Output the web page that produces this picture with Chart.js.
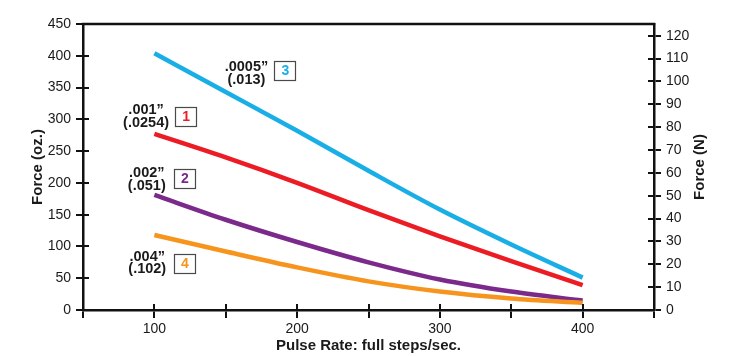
<!DOCTYPE html>
<html>
<head>
<meta charset="utf-8">
<script src="https://cdn.jsdelivr.net/npm/chart.js@4/dist/chart.umd.min.js"></script>
<style>
  html, body { margin: 0; padding: 0; background: #ffffff; }
  #wrap { width: 729px; height: 356px; position: relative; }
</style>
</head>
<body>
<div id="wrap"><canvas id="c" width="729" height="356"></canvas></div>
<script>
// ---- data ----
const pulseRates = [100, 150, 200, 250, 300, 350, 400];          // full steps/sec
const force1 = [277, 240, 200, 157, 116, 77, 39];                  // .001" (.0254)  oz
const force2 = [181, 142, 107, 75, 48, 29, 15];                    // .002" (.051)   oz
const force3 = [404, 343, 282, 219, 158, 103, 51];                 // .0005" (.013)  oz
const force4 = [118, 92, 67, 45, 29, 18, 11];                      // .004" (.102)   oz
const xTickLabels = [100, 200, 300, 400];
const OZ_TO_N = 0.278014;

const COLORS = { c1: '#ec1c24', c2: '#7b2a8c', c3: '#1aaee6', c4: '#f7941d' };
const FONT = "'Liberation Sans', Arial, Helvetica, sans-serif";

// curve labels, anchored in data coordinates
const curveLabels = [
  { l1: '.0005\u201D', l2: '(.013)', num: '3', color: COLORS.c3, tx: 164.5, ty: 382, bx: 191.5, by: 377.5 },
  { l1: '.001\u201D',  l2: '(.0254)', num: '1', color: COLORS.c1, tx: 94.2, ty: 314.5, bx: 121.9, by: 305 },
  { l1: '.002\u201D',  l2: '(.051)', num: '2', color: COLORS.c2, tx: 94.7, ty: 216, bx: 121, by: 207.5 },
  { l1: '.004\u201D',  l2: '(.102)', num: '4', color: COLORS.c4, tx: 95, ty: 84, bx: 121, by: 73.5 }
];

const pts = arr => pulseRates.map((x, i) => ({ x: x, y: arr[i] }));

const ds = (data, color) => ({
  data: pts(data), borderColor: color, backgroundColor: color,
  borderWidth: 4.5, pointRadius: 0, fill: false,
  cubicInterpolationMode: 'monotone', borderCapStyle: 'butt'
});

const framePlugin = {
  id: 'frame',
  afterDraw(chart) {
    const ctx = chart.ctx;
    const a = chart.chartArea;
    const xs = chart.scales.x, ys = chart.scales.y, y2 = chart.scales.y2;
    ctx.save();
    // top border
    ctx.strokeStyle = '#111';
    ctx.lineWidth = 2.5;
    ctx.beginPath();
    ctx.moveTo(a.left - 1.2, a.top);
    ctx.lineTo(a.right + 1.2, a.top);
    ctx.stroke();
    // inner tick parts
    ctx.lineWidth = 2;
    ctx.beginPath();
    ys.ticks.forEach(t => {
      const py = Math.round(ys.getPixelForValue(t.value));
      ctx.moveTo(a.left, py); ctx.lineTo(a.left + 6, py);
    });
    y2.ticks.forEach(t => {
      const py = Math.round(y2.getPixelForValue(t.value));
      ctx.moveTo(a.right, py); ctx.lineTo(a.right - 6, py);
    });
    xs.ticks.forEach(t => {
      const px = Math.round(xs.getPixelForValue(t.value));
      ctx.moveTo(px, a.bottom); ctx.lineTo(px, a.bottom - 6);
    });
    ctx.stroke();
    // right axis title
    ctx.fillStyle = '#1a1a1a';
    ctx.font = 'bold 15px ' + FONT;
    ctx.textAlign = 'center';
    ctx.textBaseline = 'middle';
    ctx.translate(700, (a.top + a.bottom) / 2);
    ctx.rotate(-Math.PI / 2);
    ctx.fillText('Force (N)', 0, 0);
    ctx.restore();

    // curve labels
    ctx.save();
    curveLabels.forEach(l => {
      const px = xs.getPixelForValue(l.tx), py = ys.getPixelForValue(l.ty);
      ctx.fillStyle = '#1a1a1a';
      ctx.font = 'bold 14.5px ' + FONT;
      ctx.textAlign = 'center';
      ctx.textBaseline = 'middle';
      ctx.fillText(l.l1, px, py);
      ctx.fillText(l.l2, px, py + 12.8);
      const bx = xs.getPixelForValue(l.bx), by = ys.getPixelForValue(l.by);
      ctx.fillStyle = '#ffffff';
      ctx.fillRect(bx - 10.5, by - 9.5, 21, 19);
      ctx.strokeStyle = '#4a4a4a';
      ctx.lineWidth = 1.2;
      ctx.strokeRect(Math.round(bx - 10.5) + 0.5, Math.round(by - 9.5) + 0.5, 21, 19);
      ctx.fillStyle = l.color;
      ctx.font = 'bold 14px ' + FONT;
      ctx.fillText(l.num, bx + 0.5, by + 1);
    });
    ctx.restore();
  }
};

const tickFont = { family: FONT, size: 14 };
const titleFont = { family: FONT, size: 15, weight: 'bold' };

new Chart(document.getElementById('c'), {
  type: 'line',
  data: {
    datasets: [
      ds(force4, COLORS.c4),
      ds(force2, COLORS.c2),
      ds(force1, COLORS.c1),
      ds(force3, COLORS.c3)
    ]
  },
  options: {
    responsive: false,
    animation: false,
    events: [],
    layout: { padding: { top: 24, left: 0, right: 0, bottom: 0 } },
    plugins: { legend: { display: false }, tooltip: { enabled: false }, title: { display: false } },
    scales: {
      x: {
        type: 'linear', min: 50, max: 450,
        afterFit: s => { s.height = 46; },
        border: { display: true, color: '#111', width: 2.5 },
        grid: { display: true, drawOnChartArea: false, drawTicks: true, tickLength: 8, color: '#111', lineWidth: 2 },
        ticks: {
          stepSize: 50, autoSkip: false, maxRotation: 0, padding: 3,
          color: '#1a1a1a', font: tickFont,
          callback: v => xTickLabels.includes(v) ? String(v) : ''
        },
        title: { display: true, text: 'Pulse Rate: full steps/sec.', color: '#1a1a1a', font: titleFont, padding: { top: 0, bottom: 1 } }
      },
      y: {
        type: 'linear', position: 'left', min: 0, max: 450,
        afterFit: s => { s.width = 83; },
        border: { display: true, color: '#111', width: 2.5 },
        grid: { display: true, drawOnChartArea: false, drawTicks: true, tickLength: 7, color: '#111', lineWidth: 2 },
        ticks: { stepSize: 50, padding: 5, color: '#1a1a1a', font: tickFont },
        title: { display: true, text: 'Force (oz.)', color: '#1a1a1a', font: titleFont, padding: { top: 29, bottom: 0 } }
      },
      y2: {
        type: 'linear', position: 'right', min: 0, max: 450 * OZ_TO_N,
        afterFit: s => { s.width = 75; },
        border: { display: true, color: '#111', width: 2.5 },
        grid: { display: true, drawOnChartArea: false, drawTicks: true, tickLength: 7, color: '#111', lineWidth: 2 },
        ticks: { stepSize: 10, includeBounds: false, padding: 5, color: '#1a1a1a', font: tickFont },
        title: { display: false }
      }
    }
  },
  plugins: [framePlugin]
});
</script>
</body>
</html>
